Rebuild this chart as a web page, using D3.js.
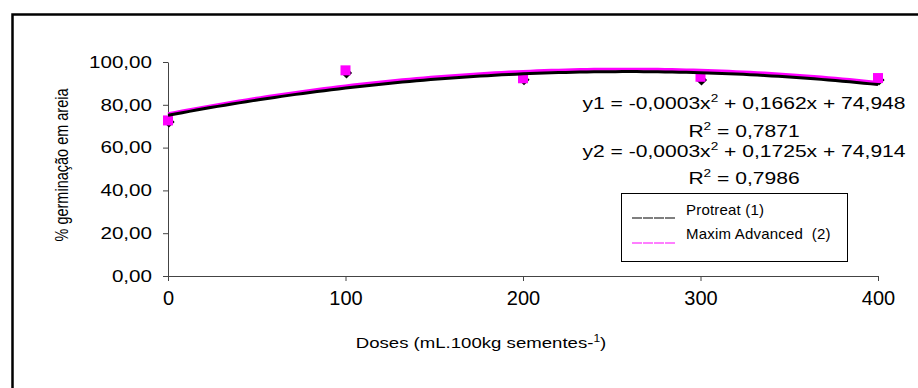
<!DOCTYPE html>
<html>
<head>
<meta charset="utf-8">
<script src="https://cdn.jsdelivr.net/npm/d3@7"></script>
<style>
  body { margin: 0; background: #fff; }
  svg { display: block; font-family: "Liberation Sans", Arial, sans-serif; }
  text { white-space: pre; }
</style>
</head>
<body>
<svg id="chart" width="918" height="388"></svg>
<script>
// doses (mL.100kg sementes-1)
const doses = [0, 100, 200, 300, 400];
// % germinação em areia
const protreat = [72.0, 94.9, 91.7, 91.6, 91.6];
const maxim = [72.7, 96.1, 92.4, 93.1, 92.5];
const yTicks = [0, 20, 40, 60, 80, 100];
const xTicks = [0, 100, 200, 300, 400];
const seriesNames = ["Protreat (1)", "Maxim Advanced  (2)"];
const equations = [
  { y: "y1", a: "-0,0003", b: "0,1662", c: "74,948", r2: "0,7871" },
  { y: "y2", a: "-0,0003", b: "0,1725", c: "74,914", r2: "0,7986" }
];

const svg = d3.select("#chart");
const x = d3.scaleLinear().domain([0, 400]).range([168, 878]);
const y = d3.scaleLinear().domain([0, 100]).range([276, 62]);

// least squares quadratic, like the excel trendline
function polyFit(xs, ys) {
  let s = [0, 0, 0, 0, 0], t = [0, 0, 0];
  xs.forEach((xv, i) => {
    for (let k = 0; k < 5; k++) s[k] += Math.pow(xv, k);
    for (let k = 0; k < 3; k++) t[k] += Math.pow(xv, k) * ys[i];
  });
  const m = [[s[0], s[1], s[2], t[0]], [s[1], s[2], s[3], t[1]], [s[2], s[3], s[4], t[2]]];
  for (let i = 0; i < 3; i++) {
    for (let j = i + 1; j < 3; j++) {
      const f = m[j][i] / m[i][i];
      for (let k = i; k < 4; k++) m[j][k] -= f * m[i][k];
    }
  }
  const c = [0, 0, 0];
  for (let i = 2; i >= 0; i--) {
    let v = m[i][3];
    for (let k = i + 1; k < 3; k++) v -= m[i][k] * c[k];
    c[i] = v / m[i][i];
  }
  return xv => c[0] + c[1] * xv + c[2] * xv * xv;
}

// outer frame (only top and left show in the crop)
svg.append("rect")
  .attr("x", 12.5).attr("y", 14.5)
  .attr("width", 930).attr("height", 400)
  .attr("fill", "none").attr("stroke", "#000").attr("stroke-width", 2.5);

// axes
const axisColor = "#444";
const xAxis = svg.append("g")
  .attr("transform", `translate(0,${y(0)})`)
  .call(d3.axisBottom(x).tickValues(xTicks).tickSize(5).tickSizeOuter(0).tickFormat(d3.format("d")));
xAxis.select(".domain").attr("stroke", axisColor);
xAxis.selectAll(".tick line").attr("stroke", axisColor);
xAxis.selectAll(".tick text")
  .attr("font-family", "Liberation Sans, Arial, sans-serif")
  .attr("font-size", 20).attr("fill", "#000").attr("dy", "1.05em");

const yAxis = svg.append("g")
  .attr("transform", `translate(${x(0)},0)`)
  .call(d3.axisLeft(y).tickValues(yTicks).tickSize(5).tickSizeOuter(0)
    .tickFormat(d => d3.format(".2f")(d).replace(".", ",")));
yAxis.select(".domain").attr("stroke", axisColor);
yAxis.selectAll(".tick line").attr("stroke", axisColor);
yAxis.selectAll(".tick text")
  .attr("font-family", "Liberation Sans, Arial, sans-serif")
  .attr("font-size", 16.5).attr("fill", "#000")
  .attr("x", 0)
  .attr("transform", "translate(-16,0) scale(1.25,1)");

// axis titles
const xt = svg.append("g").attr("transform", "translate(481,348) scale(1.2,1)")
  .append("text")
  .attr("text-anchor", "middle").attr("font-size", 15.5)
  .text("Doses (mL.100kg sementes-");
xt.append("tspan").attr("dy", -6).attr("font-size", 10).text("1");
xt.append("tspan").attr("dy", 6).text(")");

svg.append("text")
  .attr("transform", "translate(68,165) scale(1.22,1) rotate(-90)")
  .attr("text-anchor", "middle").attr("font-size", 14.5)
  .text("% germinação em areia");

// trendlines
const curveX = d3.range(0, 401, 4);
const fits = [polyFit(doses, protreat), polyFit(doses, maxim)];
const line = f => d3.line().x(d => x(d)).y(d => y(f(d)))(curveX);

// markers: diamonds behind squares
svg.append("g").selectAll("path")
  .data(doses)
  .join("path")
  .attr("transform", (d, i) => `translate(${x(d) + 1},${y(protreat[i])})`)
  .attr("d", d3.symbol(d3.symbolDiamond2, 80))
  .attr("fill", "#000");

svg.append("g").selectAll("rect")
  .data(doses)
  .join("rect")
  .attr("x", d => x(d) - 5).attr("y", (d, i) => y(maxim[i]) - 5)
  .attr("width", 10).attr("height", 10)
  .attr("fill", "#ff00ff");

svg.append("path").attr("d", line(fits[1]))
  .attr("fill", "none").attr("stroke", "#ff00ff").attr("stroke-width", 3);
svg.append("path").attr("d", line(fits[0]))
  .attr("fill", "none").attr("stroke", "#000").attr("stroke-width", 3);

// equations
const eqBase = [109, 136.5, 156.5, 184];
equations.forEach((e, i) => {
  const g1 = svg.append("g").attr("transform", `translate(744,${eqBase[i * 2]}) scale(1.24,1)`);
  const t1 = g1.append("text").attr("text-anchor", "middle").attr("font-size", 17);
  t1.append("tspan").text(`${e.y} = ${e.a}x`);
  t1.append("tspan").attr("dy", -7).attr("font-size", 11).text("2");
  t1.append("tspan").attr("dy", 7).text(` + ${e.b}x + ${e.c}`);

  const g2 = svg.append("g").attr("transform", `translate(744,${eqBase[i * 2 + 1]}) scale(1.24,1)`);
  const t2 = g2.append("text").attr("text-anchor", "middle").attr("font-size", 17);
  t2.append("tspan").text("R");
  t2.append("tspan").attr("dy", -7).attr("font-size", 11).text("2");
  t2.append("tspan").attr("dy", 7).text(` = ${e.r2}`);
});

// legend
const legend = svg.append("g");
legend.append("rect")
  .attr("x", 621.5).attr("y", 193.5).attr("width", 226).attr("height", 68)
  .attr("fill", "#fff").attr("stroke", "#000");
const legColors = ["#000", "#ff00ff"];
seriesNames.forEach((name, i) => {
  legend.append("line")
    .attr("x1", 632).attr("x2", 676)
    .attr("y1", 218 + i * 25).attr("y2", 218 + i * 25)
    .attr("stroke", legColors[i]).attr("stroke-width", 1.2)
    .attr("stroke-dasharray", "10,1");
  legend.append("text")
    .attr("x", 686).attr("y", 215 + i * 24)
    .attr("font-size", 15).attr("letter-spacing", 0.2)
    .text(name);
});
</script>
</body>
</html>
